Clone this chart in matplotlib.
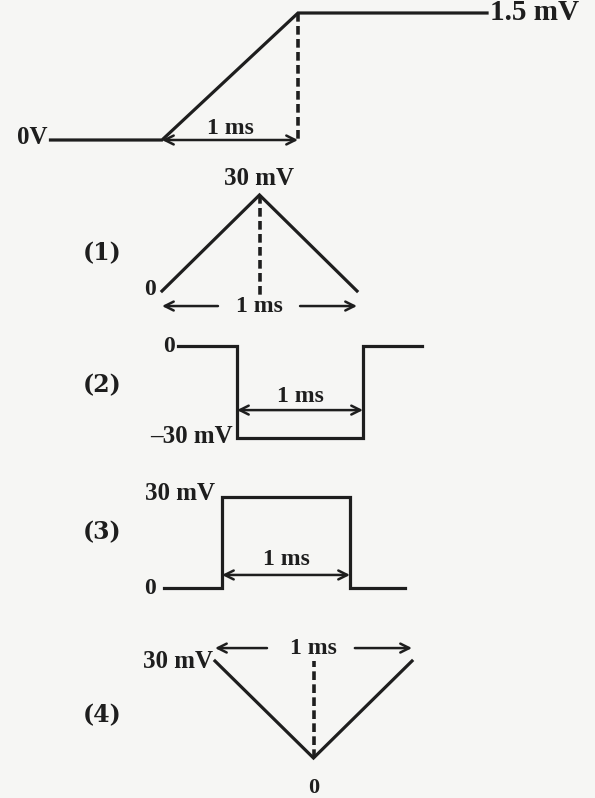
import matplotlib
matplotlib.use('Agg')
import matplotlib.pyplot as plt

W, H = 595, 798
INK = '#1e1e1e'
BG = '#f6f6f4'

# waveforms: time in ms, voltage in mV
top_t = [-0.82, 0, 1, 2.39]
top_v = [0, 0, 1.5, 1.5]

w1_t = [0, 0.5, 1]
w1_v = [0, 30, 0]

w2_t = [-0.47, 0, 0, 1, 1, 1.47]
w2_v = [0, 0, -30, -30, 0, 0]

w3_t = [-0.45, 0, 0, 1, 1, 1.43]
w3_v = [0, 0, 30, 30, 0, 0]

w4_t = [0, 0.5, 1]
w4_v = [30, 0, 30]

option_labels = ['(1)', '(2)', '(3)', '(4)']

fig = plt.figure(figsize=(W / 100, H / 100), dpi=100)
fig.patch.set_facecolor(BG)


def panel(x0, x1, ytop, ybot, xlim, ylim):
    # axes placed in pixel units, data in ms / mV
    ax = fig.add_axes([x0 / W, 1 - ybot / H, (x1 - x0) / W, (ybot - ytop) / H])
    ax.set_xlim(*xlim)
    ax.set_ylim(*ylim)
    ax.axis('off')
    return ax


def txt(ax, x, y, s, size=17, ha='center', va='center'):
    ax.text(x, y, s, fontsize=size, ha=ha, va=va, family='Liberation Serif',
            fontweight='bold', color=INK, clip_on=False)


def arrow(ax, x0, x1, y, style='<->'):
    ax.annotate('', xy=(x1, y), xytext=(x0, y), annotation_clip=False,
                arrowprops=dict(arrowstyle=style, lw=1.8, color=INK,
                                shrinkA=0, shrinkB=0, mutation_scale=16))


def wave(ax, t, v):
    ax.plot(t, v, color=INK, lw=2.3, clip_on=False, solid_joinstyle='miter')


def dashed(ax, x, y0, y1):
    ax.plot([x, x], [y0, y1], color=INK, lw=2.6, ls=(0, (2.4, 1.2)), clip_on=False)


# input waveform
ax = panel(162, 298, 13, 140, (0, 1), (0, 1.5))
wave(ax, top_t, top_v)
dashed(ax, 1, 1.5, 0)
arrow(ax, 0, 1, 0)
txt(ax, 0.5, 0.14, '1 ms')
txt(ax, -0.84, 0.03, '0V', size=18, ha='right')
txt(ax, 2.41, 1.5, '1.5 mV', size=21, ha='left')

# option 1
ax = panel(162, 357, 195, 291, (0, 1), (0, 30))
wave(ax, w1_t, w1_v)
dashed(ax, 0.5, 30, -1.2)
arrow(ax, 0.287, 0, -4.7, '->')
arrow(ax, 0.708, 1, -4.7, '->')
txt(ax, 0.5, -4.7, '1 ms')
txt(ax, 0.5, 35.3, '30 mV', size=18)
txt(ax, -0.03, 0.5, '0', ha='right', size=17)

# option 2
ax = panel(237, 363, 346, 438, (0, 1), (-30, 0))
wave(ax, w2_t, w2_v)
arrow(ax, 0, 1, -20.9)
txt(ax, 0.5, -16.5, '1 ms')
txt(ax, -0.49, 0, '0', ha='right', size=17)
txt(ax, -0.03, -29.5, '–30 mV', ha='right', size=18)

# option 3
ax = panel(222, 350, 497, 588, (0, 1), (0, 30))
wave(ax, w3_t, w3_v)
arrow(ax, 0, 1, 4.3)
txt(ax, 0.5, 9.5, '1 ms')
txt(ax, -0.055, 31.3, '30 mV', ha='right', size=18)
txt(ax, -0.52, 0, '0', ha='right', size=17)

# option 4
ax = panel(215, 412, 661, 758, (0, 1), (0, 30))
wave(ax, w4_t, w4_v)
dashed(ax, 0.5, 0, 30)
arrow(ax, 0.264, 0, 34, '->')
arrow(ax, 0.71, 1, 34, '->')
txt(ax, 0.5, 34, '1 ms')
txt(ax, -0.01, 30, '30 mV', ha='right', size=18)
txt(ax, 0.5, -9.3, '0', size=16)

# option numbers
for lab, yc in zip(option_labels, [253, 385, 532, 715]):
    fig.text(102 / W, 1 - yc / H, lab, fontsize=17, ha='center', va='center',
             family='DejaVu Serif', fontweight='bold', color=INK)

fig.savefig('out.png', dpi=100, facecolor=BG)
